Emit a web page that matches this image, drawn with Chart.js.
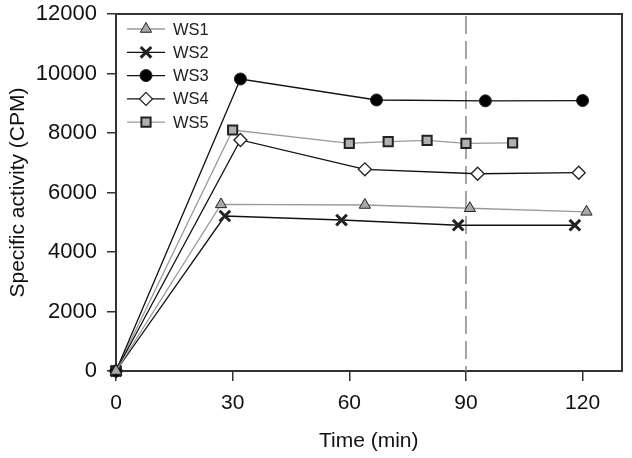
<!DOCTYPE html>
<html>
<head>
<meta charset="utf-8">
<script src="https://cdn.jsdelivr.net/npm/chart.js@4/dist/chart.umd.min.js"></script>
<style>
  html, body { margin: 0; padding: 0; background: #fff; }
  #wrap { width: 632px; height: 458px; }
</style>
</head>
<body>
<div id="wrap"><canvas id="myChart" width="632" height="458"></canvas></div>
<script>
// values
const seriesNames = ['WS1', 'WS2', 'WS3', 'WS4', 'WS5']

const ws1Time = [0, 27, 64, 91, 121]
const ws1Cpm = [0, 5600, 5580, 5470, 5350]

const ws2Time = [0, 28, 58, 88, 118]
const ws2Cpm = [0, 5210, 5075, 4900, 4900]

const ws3Time = [0, 32, 67, 95, 120]
const ws3Cpm = [0, 9815, 9110, 9080, 9090]

const ws4Time = [0, 32, 64, 93, 119]
const ws4Cpm = [0, 7765, 6780, 6630, 6665]

const ws5Time = [0, 30, 60, 70, 80, 90, 102]
const ws5Cpm = [0, 8100, 7650, 7710, 7755, 7650, 7665]

const xTickValues = [0, 30, 60, 90, 120]
const yTickValues = [0, 2000, 4000, 6000, 8000, 10000, 12000]
const markerTime = 90

const FONT = "'Liberation Sans', Arial, sans-serif"
const FRAME = '#333'

const toPoints = (xs, ys) => xs.map((x, i) => ({ x: x, y: ys[i] }))

const makeSet = (label, xs, ys, lineColor, style, fill, radius, bw) => ({
    label: label,
    data: toPoints(xs, ys),
    borderColor: lineColor,
    borderWidth: 1.3,
    pointStyle: style,
    pointRadius: radius,
    pointBackgroundColor: fill,
    pointBorderColor: '#222',
    pointBorderWidth: bw,
    showLine: true,
    tension: 0,
    clip: false
})

const datasets = [
    makeSet(seriesNames[0], ws1Time, ws1Cpm, '#9a9a9a', 'triangle', '#a8a8a8', 6.5, 1),
    makeSet(seriesNames[1], ws2Time, ws2Cpm, '#111', 'crossRot', '#111', 7.5, 3),
    makeSet(seriesNames[2], ws3Time, ws3Cpm, '#111', 'circle', '#000', 6, 1),
    makeSet(seriesNames[3], ws4Time, ws4Cpm, '#111', 'rectRot', '#fff', 6.5, 1.3),
    makeSet(seriesNames[4], ws5Time, ws5Cpm, '#9a9a9a', 'rect', '#b0b0b0', 6.5, 2)
]

// dashed line at 90 min, and legend with line + marker
const extrasPlugin = {
    id: 'extras',
    beforeDatasetsDraw(chart) {
        const { ctx, chartArea: a, scales } = chart
        const x = scales.x.getPixelForValue(markerTime)
        ctx.save()
        ctx.strokeStyle = '#888'
        ctx.lineWidth = 1.5
        ctx.setLineDash([18, 7])
        ctx.beginPath()
        ctx.moveTo(x, a.top + 2)
        ctx.lineTo(x, a.bottom)
        ctx.stroke()
        ctx.restore()
    },
    afterDraw(chart) {
        const { ctx } = chart
        ctx.save()
        const drawPoint = Chart.helpers && Chart.helpers.drawPoint
        chart.data.datasets.forEach((ds, i) => {
            const y = 29 + i * 23.3
            ctx.setLineDash([])
            ctx.strokeStyle = ds.borderColor
            ctx.lineWidth = 1.3
            ctx.beginPath()
            ctx.moveTo(127, y)
            ctx.lineTo(165, y)
            ctx.stroke()
            if (drawPoint) {
                ctx.fillStyle = ds.pointBackgroundColor
                ctx.strokeStyle = ds.pointBorderColor
                ctx.lineWidth = ds.pointBorderWidth
                drawPoint(ctx, { pointStyle: ds.pointStyle, radius: ds.pointRadius, rotation: 0, borderWidth: ds.pointBorderWidth }, 146, y)
            }
            ctx.fillStyle = '#222'
            ctx.font = '16.5px ' + FONT
            ctx.textBaseline = 'middle'
            ctx.textAlign = 'left'
            ctx.fillText(ds.label, 173, y + 1)
        })
        ctx.restore()
    }
}

// plain axis used only for the top / right edge of the box
const edgeAxis = (pos, axis) => ({
    type: 'linear',
    position: pos,
    axis: axis,
    display: true,
    ticks: { display: false },
    grid: { drawOnChartArea: false, drawTicks: false },
    border: { display: true, color: FRAME, width: 2 },
    afterFit: (s) => {
        if (axis === 'x') s.height = 0; else s.width = 0
        s.paddingTop = 0; s.paddingBottom = 0; s.paddingLeft = 0; s.paddingRight = 0
    }
})

const ctx = document.getElementById('myChart').getContext('2d')

const myChart = new Chart(ctx, {
    type: 'scatter',
    data: { datasets: datasets },
    options: {
        responsive: false,
        animation: false,
        layout: { padding: { top: 14, right: 1, left: 0, bottom: 0 } },
        plugins: {
            legend: { display: false },
            tooltip: { enabled: false }
        },
        elements: { line: { fill: false } },
        scales: {
            x: {
                type: 'linear',
                position: 'bottom',
                min: 0,
                max: 130,
                afterBuildTicks: (s) => { s.ticks = xTickValues.map(v => ({ value: v })) },
                afterFit: (s) => { s.height = 87; s.paddingLeft = 0; s.paddingRight = 0 },
                border: { display: true, color: FRAME, width: 2 },
                grid: { drawOnChartArea: false, drawTicks: true, tickLength: 10, color: FRAME, lineWidth: 1.5 },
                ticks: { font: { family: FONT, size: 21 }, color: '#111', padding: 10, maxRotation: 0, callback: (v) => String(v) },
                title: { display: true, text: 'Time (min)', font: { family: FONT, size: 21 }, color: '#111', padding: { top: 1 } }
            },
            y: {
                type: 'linear',
                position: 'left',
                min: 0,
                max: 12000,
                afterBuildTicks: (s) => { s.ticks = yTickValues.map(v => ({ value: v })) },
                afterFit: (s) => { s.width = 116; s.paddingTop = 0; s.paddingBottom = 0 },
                border: { display: true, color: FRAME, width: 2 },
                grid: { drawOnChartArea: false, drawTicks: true, tickLength: 9, color: FRAME, lineWidth: 1.5 },
                ticks: { font: { family: FONT, size: 22 }, color: '#111', padding: 10, callback: (v) => String(v) },
                title: { display: true, text: 'Specific activity (CPM)', font: { family: FONT, size: 21 }, color: '#111', padding: { top: 6, bottom: 0 } }
            },
            xTop: edgeAxis('top', 'x'),
            yRight: edgeAxis('right', 'y')
        }
    },
    plugins: [extrasPlugin]
})
</script>
</body>
</html>
